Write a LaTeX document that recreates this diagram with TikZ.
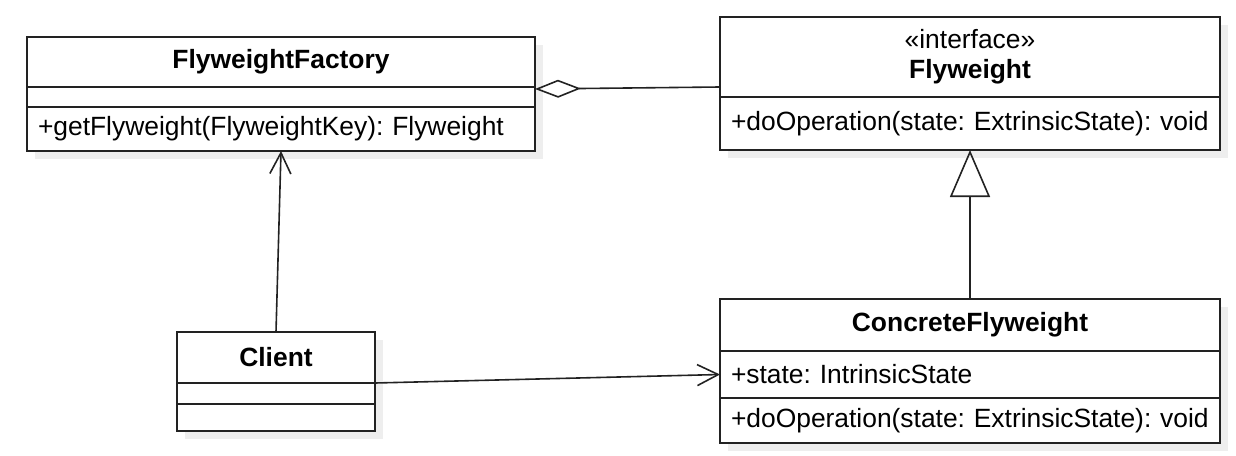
\documentclass[tikz,border=0pt]{standalone}
\usepackage{fontspec}
\setmainfont{Liberation Sans}
\usetikzlibrary{positioning,arrows.meta,shadows}
\definecolor{umlline}{HTML}{222222}
\definecolor{shade}{HTML}{EEEEEE}
\newcommand{\cname}[1]{{\bfseries #1}}
\frenchspacing

\tikzset{
  umlbox/.style={draw=umlline,line width=1pt,fill=white,minimum width=#1,
    inner xsep=5.5pt,inner ysep=2pt,outer sep=0pt,
    drop shadow={shadow xshift=4pt,shadow yshift=-4pt,fill=shade,opacity=1}},
  umltitle/.style={umlbox=#1,align=center},
  umlrow/.style={umlbox=#1,text width=#1-11pt,align=left},
  conn/.style={draw=umlline,line width=0.8pt},
  openarrow/.style={-{Straight Barb[length=10.5pt,width=10.5pt]}}
}

\begin{document}
\begin{tikzpicture}[x=0.5pt,y=-0.5pt,font=\fontsize{13.2}{15}\selectfont]
\useasboundingbox (0,0) rectangle (1236,455);

% factory
\node[umltitle=254pt,minimum height=25pt] (ff-title) at (281,62) {\cname{FlyweightFactory}};
\node[umlrow=254pt,minimum height=10pt,below=0pt of ff-title] (ff-attr) {};
\node[umlrow=254pt,minimum height=22pt,below=0pt of ff-attr] (ff-ops) {+getFlyweight(FlyweightKey): Flyweight};

% interface
\node[umltitle=250pt,minimum height=40pt] (fw-title) at (970,57) {«interface»\\\cname{Flyweight}};
\node[umlrow=250pt,minimum height=26.5pt,below=0pt of fw-title] (fw-ops) {+doOperation(state: ExtrinsicState): void};

% concrete class
\node[umltitle=250pt,minimum height=26pt] (cf-title) at (970,325) {\cname{ConcreteFlyweight}};
\node[umlrow=250pt,minimum height=23.5pt,below=0pt of cf-title] (cf-attr) {+state: IntrinsicState};
\node[umlrow=250pt,minimum height=22.5pt,below=0pt of cf-attr] (cf-ops) {+doOperation(state: ExtrinsicState): void};

% client
\node[umltitle=99pt,minimum height=25.5pt] (cl-title) at (276,357.5) {\cname{Client}};
\node[umlrow=99pt,minimum height=10.5pt,below=0pt of cl-title] (cl-attr) {};
\node[umlrow=99pt,minimum height=13.5pt,below=0pt of cl-attr] (cl-ops) {};

% relations
\draw[conn,{Diamond[open,length=23pt,width=9pt]}-] ([yshift=-1pt]ff-title.south east) -- ([yshift=5pt]fw-title.south west);
\draw[conn,-{Triangle[open,length=23.5pt,width=20pt]}] (cf-title.north) -- (fw-ops.south);
\draw[conn,openarrow] (cl-title.north) -- (ff-ops.south);
\draw[conn,openarrow] (cl-title.south east) -- (cf-attr.west);
\end{tikzpicture}
\end{document}
